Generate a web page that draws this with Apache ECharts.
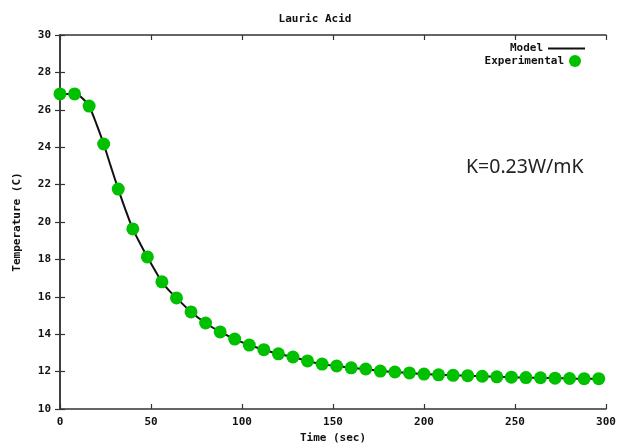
<!DOCTYPE html>
<html>
<head>
<meta charset="utf-8">
<script src="https://cdn.jsdelivr.net/npm/echarts@6/dist/echarts.min.js"></script>
<style>html,body{margin:0;padding:0;background:#fff;}#c{width:630px;height:444px;}</style>
</head>
<body>
<div id="c"></div>
<script>
const titleText = 'Lauric Acid';
const xName = 'Time (sec)';
const yName = 'Temperature (C)';
const annotation = 'K=0.23W/mK';

const expTime = [0,8,16,24,32,40,48,56,64,72,80,88,96,104,112,120,128,136,144,152,160,168,176,184,192,200,208,216,224,232,240,248,256,264,272,280,288,296];
const expTemp = [26.85,26.85,26.2,24.17,21.76,19.63,18.13,16.8,15.94,15.19,14.6,14.12,13.74,13.42,13.17,12.95,12.78,12.57,12.4,12.3,12.2,12.14,12.03,11.98,11.93,11.87,11.83,11.8,11.78,11.75,11.72,11.7,11.68,11.67,11.65,11.63,11.62,11.62];

const modelTime = [0,4,8,10,12,14,16,20,24,28,32,36,40,44,48,52,56,60,64,72,80,88,96,104,112,120,128,136,144,152,160,168,176,184,192,200,208,216,224,232,240,248,256,264,272,280,288,296];
const modelTemp = [26.85,26.85,26.85,26.8,26.65,26.45,26.2,25.25,24.17,22.95,21.76,20.65,19.63,18.85,18.13,17.45,16.8,16.33,15.94,15.19,14.6,14.12,13.74,13.42,13.17,12.95,12.78,12.57,12.4,12.3,12.2,12.14,12.03,11.98,11.93,11.87,11.83,11.8,11.78,11.75,11.72,11.7,11.68,11.67,11.65,11.63,11.62,11.62];

const xMin = 0, xMax = 300, xStep = 50;
const yMin = 10, yMax = 30, yStep = 2;

const mono = '"DejaVu Sans Mono", "Liberation Mono", monospace';
const axisColor = '#333';

const chart = echarts.init(document.getElementById('c'), null, {renderer: 'canvas'});
const baseAxisLine = {show: true, lineStyle: {color: axisColor, width: 1.5}};
const tickStyle = {show: true, inside: true, length: 5, lineStyle: {color: axisColor, width: 1.2}};
const lbl = {color: '#111', fontFamily: mono, fontWeight: 'bold', fontSize: 11};

chart.setOption({
  animation: false,
  backgroundColor: '#fff',
  title: {
    text: titleText, left: 'center', top: 9,
    textStyle: {fontFamily: mono, fontWeight: 'bold', fontSize: 11, color: '#111'}
  },
  grid: {left: 60, right: 24, top: 35, bottom: 35, show: false, containLabel: false, outerBoundsMode: 'none'},
  legend: [
    {
      data: [{name: 'Model', icon: 'rect'}],
      right: 40, top: 38, orient: 'vertical', align: 'right',
      itemWidth: 37, itemHeight: 2, itemGap: 4,
      textStyle: lbl, selectedMode: false
    },
    {
      data: [{name: 'Experimental', icon: 'circle'}],
      right: 44, top: 50, orient: 'vertical', align: 'right',
      itemWidth: 12, itemHeight: 12,
      textStyle: lbl, selectedMode: false
    }
  ],
  xAxis: [
    {
      type: 'value', min: xMin, max: xMax, interval: xStep, position: 'bottom',
      name: xName, nameLocation: 'middle', nameGap: 23,
      nameTextStyle: lbl,
      axisLine: baseAxisLine, axisTick: tickStyle,
      axisLabel: Object.assign({margin: 8}, lbl),
      splitLine: {show: false}
    },
    {
      type: 'value', min: xMin, max: xMax, interval: xStep, position: 'top',
      axisLine: baseAxisLine, axisTick: tickStyle,
      axisLabel: {show: false}, splitLine: {show: false}
    }
  ],
  yAxis: [
    {
      type: 'value', min: yMin, max: yMax, interval: yStep, position: 'left',
      name: yName, nameLocation: 'middle', nameGap: 37, nameRotate: 90,
      nameTextStyle: lbl,
      axisLine: baseAxisLine, axisTick: tickStyle,
      axisLabel: Object.assign({margin: 9}, lbl),
      splitLine: {show: false}
    },
    {
      type: 'value', min: yMin, max: yMax, interval: yStep, position: 'right',
      axisLine: baseAxisLine, axisTick: tickStyle,
      axisLabel: {show: false}, splitLine: {show: false}
    }
  ],
  graphic: [
    {
      type: 'text', left: 466, top: 157,
      style: {text: annotation, fontFamily: '"Noto Sans", "Open Sans", sans-serif', fontSize: 19.5, fill: '#222'}
    }
  ],
  series: [
    {
      name: 'Model', type: 'line', xAxisIndex: 0, yAxisIndex: 0,
      data: modelTime.map((t, i) => [t, modelTemp[i]]),
      showSymbol: false, smooth: 0.3,
      lineStyle: {color: '#111', width: 2},
      itemStyle: {color: '#111'}, z: 2
    },
    {
      name: 'Experimental', type: 'scatter', xAxisIndex: 0, yAxisIndex: 0,
      data: expTime.map((t, i) => [t, expTemp[i]]),
      symbol: 'circle', symbolSize: 13,
      itemStyle: {color: '#00c000', opacity: 1}, z: 3
    }
  ]
});
</script>
</body>
</html>
